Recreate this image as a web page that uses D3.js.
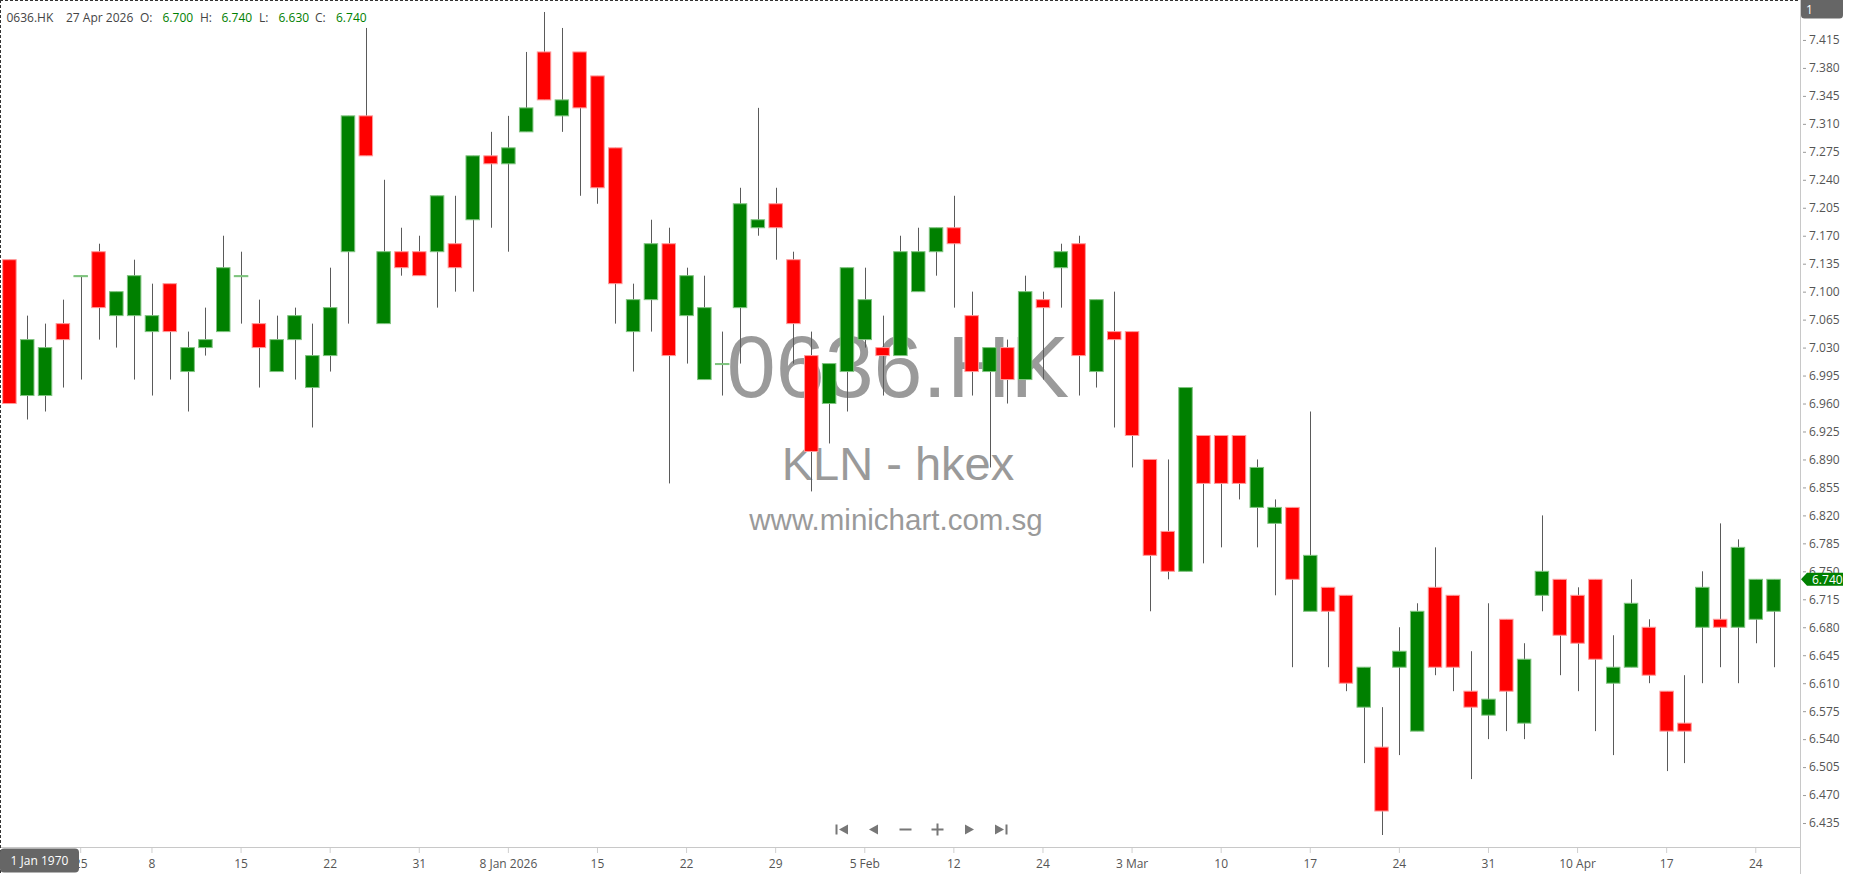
<!DOCTYPE html>
<html>
<head>
  <meta charset="utf-8">
  <title>0636.HK - KLN - hkex</title>
  <script src="https://cdnjs.cloudflare.com/ajax/libs/d3/7.8.5/d3.min.js"></script>
  <style>
    html, body { margin: 0; padding: 0; background: #fff; overflow: hidden; }
    svg { display: block; font-family: "Open Sans", sans-serif; }
    .axis text { fill: #555; font-size: 12px; font-family: "Open Sans", sans-serif; }
    .axis .domain { display: none; }
    .watermark { fill: #9a9a9a; font-family: "Liberation Sans", Arial, sans-serif; text-anchor: middle; }
  </style>
</head>
<body>
<svg id="chart" width="1850" height="874"></svg>
<script>
  var symbol = "0636.HK";
  var subtitle = "KLN - hkex";
  var site = "www.minichart.com.sg";

  // one entry per trading day
  var dates = [
    "2025-11-26","2025-11-27","2025-11-28","2025-12-01","2025-12-02","2025-12-03","2025-12-04","2025-12-05",
    "2025-12-08","2025-12-09","2025-12-10","2025-12-11","2025-12-12","2025-12-15","2025-12-16","2025-12-17",
    "2025-12-18","2025-12-19","2025-12-22","2025-12-23","2025-12-24","2025-12-29","2025-12-30","2025-12-31",
    "2026-01-02","2026-01-05","2026-01-06","2026-01-07","2026-01-08","2026-01-09","2026-01-12","2026-01-13",
    "2026-01-14","2026-01-15","2026-01-16","2026-01-19","2026-01-20","2026-01-21","2026-01-22","2026-01-23",
    "2026-01-26","2026-01-27","2026-01-28","2026-01-29","2026-01-30","2026-02-02","2026-02-03","2026-02-04",
    "2026-02-05","2026-02-06","2026-02-09","2026-02-10","2026-02-11","2026-02-12","2026-02-13","2026-02-16",
    "2026-02-20","2026-02-23","2026-02-24","2026-02-25","2026-02-26","2026-02-27","2026-03-02","2026-03-03",
    "2026-03-04","2026-03-05","2026-03-06","2026-03-09","2026-03-10","2026-03-11","2026-03-12","2026-03-13",
    "2026-03-16","2026-03-17","2026-03-18","2026-03-19","2026-03-20","2026-03-23","2026-03-24","2026-03-25",
    "2026-03-26","2026-03-27","2026-03-30","2026-03-31","2026-04-01","2026-04-02","2026-04-08","2026-04-09",
    "2026-04-10","2026-04-13","2026-04-14","2026-04-15","2026-04-16","2026-04-17","2026-04-20","2026-04-21",
    "2026-04-22","2026-04-23","2026-04-24","2026-04-27"
  ];
  var opens = [
    7.14,6.97,6.97,7.06,7.12,7.15,7.07,7.07,7.05,7.11,7.00,7.03,7.05,7.12,7.06,7.00,7.04,6.98,7.02,7.15,
    7.32,7.06,7.15,7.15,7.15,7.16,7.19,7.27,7.26,7.30,7.40,7.32,7.40,7.37,7.28,7.05,7.09,7.16,7.07,6.99,
    7.01,7.08,7.18,7.21,7.14,7.02,6.96,7.00,7.04,7.03,7.02,7.10,7.15,7.18,7.07,7.00,7.03,6.99,7.09,7.13,
    7.16,7.00,7.05,7.05,6.89,6.80,6.75,6.92,6.92,6.92,6.83,6.81,6.83,6.70,6.73,6.72,6.58,6.53,6.63,6.55,
    6.73,6.72,6.60,6.57,6.69,6.56,6.72,6.74,6.72,6.74,6.61,6.63,6.68,6.60,6.56,6.68,6.69,6.68,6.69,6.70
  ];
  var highs = [
    7.14,7.07,7.06,7.09,7.12,7.16,7.10,7.14,7.11,7.11,7.05,7.08,7.17,7.15,7.09,7.07,7.08,7.06,7.13,7.32,
    7.43,7.24,7.18,7.17,7.22,7.22,7.27,7.30,7.32,7.40,7.45,7.43,7.40,7.37,7.28,7.11,7.19,7.18,7.13,7.12,
    7.05,7.23,7.33,7.23,7.15,7.05,7.01,7.13,7.13,7.07,7.17,7.18,7.18,7.22,7.10,7.03,7.04,7.12,7.10,7.16,
    7.17,7.09,7.10,7.05,6.89,6.89,6.98,6.92,6.92,6.92,6.89,6.84,6.83,6.95,6.73,6.72,6.63,6.58,6.68,6.71,
    6.78,6.72,6.65,6.71,6.69,6.66,6.82,6.74,6.73,6.74,6.67,6.74,6.69,6.60,6.62,6.75,6.81,6.79,6.74,6.74
  ];
  var lows = [
    6.96,6.94,6.95,6.98,6.99,7.04,7.03,6.99,6.97,6.99,6.95,7.02,7.05,7.06,6.98,7.00,6.99,6.93,7.00,7.06,
    7.27,7.06,7.12,7.12,7.08,7.10,7.10,7.18,7.15,7.30,7.34,7.30,7.22,7.21,7.06,7.00,7.05,6.86,7.01,6.99,
    6.97,7.01,7.17,7.14,7.01,6.85,6.91,6.95,7.03,6.97,7.02,7.10,7.12,7.08,6.97,6.88,6.96,6.99,6.99,7.08,
    6.97,6.98,6.93,6.88,6.70,6.74,6.75,6.76,6.78,6.84,6.78,6.72,6.63,6.70,6.63,6.60,6.51,6.42,6.52,6.55,
    6.62,6.60,6.49,6.54,6.55,6.54,6.70,6.62,6.60,6.55,6.52,6.63,6.61,6.50,6.51,6.61,6.63,6.61,6.66,6.63
  ];
  var closes = [
    6.96,7.04,7.03,7.04,7.12,7.08,7.10,7.12,7.07,7.05,7.03,7.04,7.13,7.12,7.03,7.04,7.07,7.02,7.08,7.32,
    7.27,7.15,7.13,7.12,7.22,7.13,7.27,7.26,7.28,7.33,7.34,7.34,7.33,7.23,7.11,7.09,7.16,7.02,7.12,7.08,
    7.01,7.21,7.19,7.18,7.06,6.90,7.01,7.13,7.09,7.02,7.15,7.15,7.18,7.16,7.00,7.03,6.99,7.10,7.08,7.15,
    7.02,7.09,7.04,6.92,6.77,6.75,6.98,6.86,6.86,6.86,6.88,6.83,6.74,6.77,6.70,6.61,6.63,6.45,6.65,6.70,
    6.63,6.63,6.58,6.59,6.60,6.64,6.75,6.67,6.66,6.64,6.63,6.71,6.62,6.55,6.55,6.73,6.68,6.78,6.74,6.74
  ];

  // axis labels
  var priceTicks = [6.435,6.470,6.505,6.540,6.575,6.610,6.645,6.680,6.715,6.750,6.785,6.820,6.855,6.890,6.925,
                    6.960,6.995,7.030,7.065,7.100,7.135,7.170,7.205,7.240,7.275,7.310,7.345,7.380,7.415];
  var dateTickIdx = [4,8,13,18,23,28,33,38,43,48,53,58,63,68,73,78,83,88,93,98];
  var dateTickLabels = ["25","8","15","22","31","8 Jan 2026","15","22","29","5 Feb","12","24","3 Mar",
                        "10","17","24","31","10 Apr","17","24"];

  var plotRight = 1800, plotBottom = 847;
  var UP = "#008000", DOWN = "#ff0000";

  var data = dates.map(function(d, i){
    return {date: d, o: opens[i], h: highs[i], l: lows[i], c: closes[i]};
  });

  var svg = d3.select("#chart");

  var x = d3.scaleBand().domain(dates).range([0.5, 1782.5]).padding(0);
  var y = d3.scaleLinear().domain([6.405, 7.465]).range([plotBottom, 0]);
  var bodyW = 13.5;

  // watermark
  svg.append("text").attr("class", "watermark").attr("x", 898).attr("y", 397)
     .style("font-size", "88px").text(symbol);
  svg.append("text").attr("class", "watermark").attr("x", 898).attr("y", 480)
     .style("font-size", "47px").text(subtitle);
  svg.append("text").attr("class", "watermark").attr("x", 896).attr("y", 530)
     .style("font-size", "29.5px").text(site);

  // candles
  svg.append("clipPath").attr("id", "plotclip").append("rect")
     .attr("x", 0).attr("y", 0).attr("width", plotRight).attr("height", plotBottom);
  var g = svg.append("g").attr("clip-path", "url(#plotclip)");

  var candle = g.selectAll(".candle").data(data).enter().append("g").attr("class", "candle");

  candle.append("line")
     .attr("x1", function(d){ return Math.round(x(d.date) + x.bandwidth() / 2) + 0.5; })
     .attr("x2", function(d){ return Math.round(x(d.date) + x.bandwidth() / 2) + 0.5; })
     .attr("y1", function(d){ return y(d.h); })
     .attr("y2", function(d){ return y(d.l); })
     .attr("stroke", "#5a5a5a").attr("stroke-width", 1);

  candle.append("rect")
     .attr("x", function(d){ return x(d.date) + (x.bandwidth() - bodyW) / 2; })
     .attr("width", bodyW)
     .attr("y", function(d){ return y(Math.max(d.o, d.c)); })
     .attr("height", function(d){ return Math.max(1, Math.abs(y(d.o) - y(d.c))); })
     .attr("fill", function(d){ return d.c >= d.o ? UP : DOWN; })
     .attr("stroke", function(d){ return d.c >= d.o ? "#7fc47f" : "#ff9a9a"; })
     .attr("stroke-width", 1);

  // y axis (right)
  var yAxis = d3.axisRight(y).tickValues(priceTicks).tickFormat(d3.format(".3f"))
                .tickSize(6).tickPadding(3);
  var gy = svg.append("g").attr("class", "axis y")
              .attr("transform", "translate(" + plotRight + ",0)").call(yAxis);
  gy.selectAll(".tick line").attr("x1", 3).attr("stroke", "#999");

  // x axis (bottom)
  var xAxis = d3.axisBottom(x).tickValues(dateTickIdx.map(function(i){ return dates[i]; }))
                .tickFormat(function(d, i){ return dateTickLabels[i]; })
                .tickSize(6).tickPadding(6.5).tickSizeOuter(0);
  var gx = svg.append("g").attr("class", "axis x")
              .attr("transform", "translate(0," + plotBottom + ")").call(xAxis);
  gx.selectAll(".tick line").attr("stroke", "#cfcfcf");

  svg.append("line").attr("x1", 0).attr("x2", plotRight).attr("y1", plotBottom + 0.5).attr("y2", plotBottom + 0.5)
     .attr("stroke", "#c8c8c8");
  svg.append("line").attr("x1", plotRight + 0.5).attr("x2", plotRight + 0.5).attr("y1", 0).attr("y2", 874)
     .attr("stroke", "#c8c8c8");

  // dashed frame
  svg.append("line").attr("x1", 0).attr("x2", plotRight).attr("y1", 0.5).attr("y2", 0.5)
     .attr("stroke", "#333").attr("stroke-dasharray", "3,2");
  svg.append("line").attr("x1", 0.5).attr("x2", 0.5).attr("y1", 0).attr("y2", 874)
     .attr("stroke", "#333").attr("stroke-dasharray", "3,2");

  // navigation buttons
  var nav = svg.append("g").attr("fill", "#777").attr("stroke", "#777");
  var navY = 829.5, navX0 = 841.5, navStep = 32;
  function tri(cx, dir){ // dir -1 left, 1 right
    var w = 9, h = 10;
    return "M" + (cx - dir * w / 2) + "," + (navY - h / 2) + "L" + (cx + dir * w / 2) + "," + navY +
           "L" + (cx - dir * w / 2) + "," + (navY + h / 2) + "Z";
  }
  nav.append("path").attr("d", tri(navX0 + 2, -1)).attr("stroke", "none");
  nav.append("rect").attr("x", navX0 - 6).attr("y", navY - 5).attr("width", 2).attr("height", 10).attr("stroke", "none");
  nav.append("path").attr("d", tri(navX0 + navStep, -1)).attr("stroke", "none");
  nav.append("rect").attr("x", navX0 + 2 * navStep - 6).attr("y", navY - 1).attr("width", 12).attr("height", 2).attr("stroke", "none");
  nav.append("rect").attr("x", navX0 + 3 * navStep - 6).attr("y", navY - 1).attr("width", 12).attr("height", 2).attr("stroke", "none");
  nav.append("rect").attr("x", navX0 + 3 * navStep - 1).attr("y", navY - 6).attr("width", 2).attr("height", 12).attr("stroke", "none");
  nav.append("path").attr("d", tri(navX0 + 4 * navStep, 1)).attr("stroke", "none");
  nav.append("path").attr("d", tri(navX0 + 5 * navStep - 2, 1)).attr("stroke", "none");
  nav.append("rect").attr("x", navX0 + 5 * navStep + 4).attr("y", navY - 5).attr("width", 2).attr("height", 10).attr("stroke", "none");

  // header with last bar values
  var last = data[data.length - 1];
  var valColor = last.c >= last.o ? UP : DOWN;
  var fmtDate = d3.timeFormat("%-d %b %Y"), parse = d3.timeParse("%Y-%m-%d");
  var f3 = d3.format(".3f");
  var header = [
    {t: symbol, x: 6.5, c: "#444"},
    {t: fmtDate(parse(last.date)), x: 66, c: "#444"},
    {t: "O:", x: 140, c: "#444"}, {t: f3(last.o), x: 162.5, c: valColor},
    {t: "H:", x: 200, c: "#444"}, {t: f3(last.h), x: 221.5, c: valColor},
    {t: "L:", x: 259, c: "#444"}, {t: f3(last.l), x: 278.5, c: valColor},
    {t: "C:", x: 315, c: "#444"}, {t: f3(last.c), x: 336, c: valColor}
  ];
  svg.selectAll(".hdr").data(header).enter().append("text").attr("class", "hdr")
     .attr("x", function(d){ return d.x; }).attr("y", 22)
     .style("font-size", "12px").attr("fill", function(d){ return d.c; })
     .text(function(d){ return d.t; });

  // "1" box top right
  svg.append("path").attr("d", "M1801,0H1843V15Q1843,18.5 1839.5,18.5H1804.5Q1801,18.5 1801,15Z").attr("fill", "#666");
  svg.append("text").attr("x", 1806).attr("y", 14).attr("fill", "#fff").style("font-size", "12px").text("1");

  // date box bottom left
  svg.append("rect").attr("x", 0).attr("y", 848.5).attr("width", 79).attr("height", 24).attr("rx", 4).attr("fill", "#666");
  svg.append("text").attr("x", 39.5).attr("y", 865).attr("text-anchor", "middle").attr("fill", "#fff")
     .style("font-size", "12px").text(fmtDate(new Date(1970, 0, 1)));

  // last price marker
  var py = y(last.c);
  svg.append("path")
     .attr("d", "M1801," + py + "L1807," + (py - 6.5) + "H1843V" + (py + 6.5) + "H1807Z")
     .attr("fill", valColor);
  svg.append("text").attr("x", 1812).attr("y", py + 4.3).attr("fill", "#fff")
     .style("font-size", "12px").text(f3(last.c));
</script>
</body>
</html>
